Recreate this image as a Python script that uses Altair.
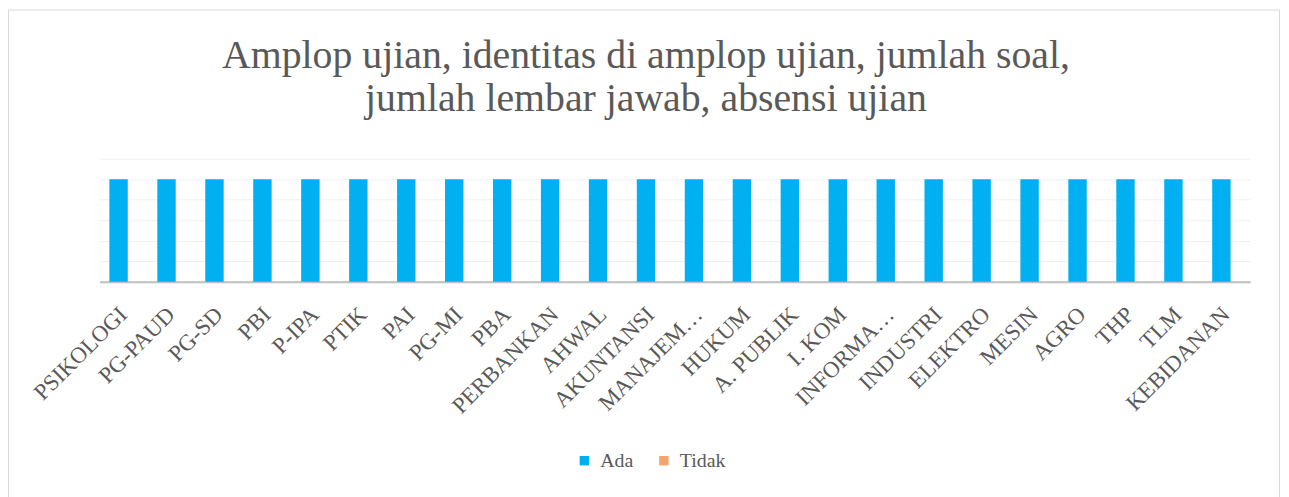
import altair as alt
import pandas as pd

categories = ["PSIKOLOGI", "PG-PAUD", "PG-SD", "PBI", "P-IPA", "PTIK", "PAI", "PG-MI",
              "PBA", "PERBANKAN", "AHWAL", "AKUNTANSI", "MANAJEM…", "HUKUM", "A. PUBLIK",
              "I. KOM", "INFORMA…", "INDUSTRI", "ELEKTRO", "MESIN", "AGRO", "THP", "TLM",
              "KEBIDANAN"]
ada = [1, 1, 1, 1, 1, 1, 1, 1, 1, 1, 1, 1, 1, 1, 1, 1, 1, 1, 1, 1, 1, 1, 1, 1]
tidak = [0, 0, 0, 0, 0, 0, 0, 0, 0, 0, 0, 0, 0, 0, 0, 0, 0, 0, 0, 0, 0, 0, 0, 0]
series = ["Ada", "Tidak"]
colors = ["#00B0F0", "#F4A46C"]
title_lines = ["Amplop ujian, identitas di amplop ujian, jumlah soal,",
               "jumlah lembar jawab, absensi ujian"]

rows = []
for c, a, t in zip(categories, ada, tidak):
    rows.append({"cat": c, "series": "Ada", "value": a})
    rows.append({"cat": c, "series": "Tidak", "value": t})
df = pd.DataFrame(rows)

FONT = "Liberation Serif"
GREY = "#595959"

bars = alt.Chart(df).mark_bar().encode(
    x=alt.X("cat:N", sort=categories, title=None,
            scale=alt.Scale(paddingInner=0, paddingOuter=0),
            axis=alt.Axis(labelAngle=-45, labelAlign="right", labelBaseline="middle",
                          labelFont=FONT, labelFontSize=23, labelColor=GREY,
                          labelPadding=29, ticks=False, domainColor="#BFBFBF",
                          domainWidth=2, labelLimit=300)),
    xOffset=alt.XOffset("series:N", sort=series,
                        scale=alt.Scale(paddingInner=0, paddingOuter=0.304, align=0.89)),
    y=alt.Y("value:Q", title=None, scale=alt.Scale(domain=[0, 1.2]),
            axis=alt.Axis(values=[0, 0.2, 0.4, 0.6, 0.8, 1.0, 1.2], labels=False,
                          ticks=False, domain=False, gridColor="#EFEFEF", gridWidth=1)),
    color=alt.Color("series:N", sort=series,
                    scale=alt.Scale(domain=series, range=colors),
                    legend=alt.Legend(orient="none", legendX=478, legendY=294,
                                      direction="horizontal", title=None,
                                      symbolType="square", symbolSize=90,
                                      symbolStrokeWidth=0, symbolOffset=0,
                                      labelFont=FONT, labelFontSize=20,
                                      labelColor=GREY, columnPadding=20,
                                      labelOffset=6)),
)

one = pd.DataFrame({"b": [0]})

border = alt.Chart(one).mark_rect(
    fill=None, stroke="#D9D9D9", strokeWidth=1
).encode(
    x=alt.value(-91.5), x2=alt.value(1187.5),
    y=alt.value(-149.5), y2=alt.value(345)
)

title = alt.Chart(one).mark_text(
    font=FONT, fontSize=40, color=GREY, align="center", baseline="alphabetic",
    lineHeight=43
).encode(
    x=alt.value(550), y=alt.value(-91), text=alt.value(title_lines)
)

chart = alt.layer(border, title, bars).properties(
    width=1158, height=124,
    autosize=alt.AutoSizeParams(type="none"),
    padding={"left": 92, "top": 150, "right": 31, "bottom": 220},
).configure(background="white").configure_view(stroke=None)

chart.save("out.html", embed_options={"renderer": "svg", "actions": False})
